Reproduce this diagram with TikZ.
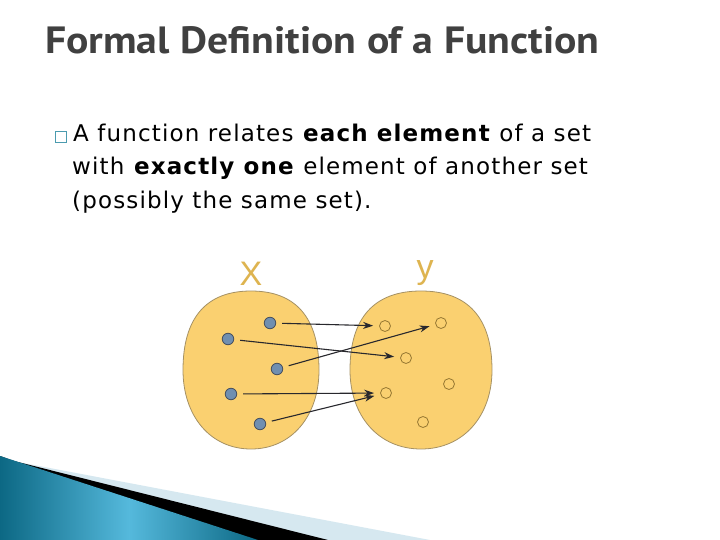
\documentclass[tikz,border=0pt]{standalone}
\usepackage{fontspec}
\setmainfont{DejaVu Sans}[LetterSpace=5]
\newfontfamily\titlefont{PT Sans}
\newfontfamily\labfont{Liberation Sans}
\usetikzlibrary{arrows.meta}
\definecolor{titlec}{RGB}{64,64,64}
\definecolor{bulc}{RGB}{75,155,175}
\definecolor{blobfill}{RGB}{250,208,112}
\definecolor{blobline}{RGB}{165,145,100}
\definecolor{dotfill}{RGB}{112,143,176}
\definecolor{dotline}{RGB}{70,80,95}
\definecolor{odotline}{RGB}{150,120,50}
\definecolor{labc}{RGB}{222,180,80}
\definecolor{arrc}{RGB}{40,40,45}
\definecolor{tealdark}{RGB}{12,104,132}
\definecolor{teallight}{RGB}{85,185,220}
\definecolor{paleblue}{RGB}{214,232,240}
\newcommand{\blobat}[4]{%
  (#1+#3,#2) .. controls (#1+#3,#2+0.58*#4) and (#1+0.6*#3,#2+#4) .. (#1,#2+#4)
  .. controls (#1-0.6*#3,#2+#4) and (#1-#3,#2+0.58*#4) .. (#1-#3,#2)
  .. controls (#1-#3,#2-0.66*#4) and (#1-0.66*#3,#2-#4) .. (#1,#2-#4)
  .. controls (#1+0.66*#3,#2-#4) and (#1+#3,#2-0.66*#4) .. (#1+#3,#2) -- cycle}
\tikzset{
  body/.style={inner sep=0pt, anchor=base west, font=\fontsize{23}{27}\selectfont},
  ldot/.style={circle, minimum size=11.5pt, inner sep=0pt, fill=dotfill, draw=dotline, line width=0.8pt},
  rdot/.style={circle, minimum size=11pt, inner sep=0pt, fill=blobfill, draw=odotline, line width=0.8pt},
  arr/.style={draw=arrc, line width=1.1pt, -{Stealth[length=10pt,width=7pt]}, shorten <=6pt, shorten >=6pt},
  setlab/.style={inner sep=0pt, anchor=base, text=labc, font=\labfont\fontsize{34}{34}\selectfont},
  blob/.style={fill=blobfill, draw=blobline, line width=0.8pt}
}
\begin{document}
\begin{tikzpicture}[x=1pt,y=-1pt]
\useasboundingbox (0,0) rectangle (720,540);
\fill[white] (0,0) rectangle (720,540);
% title
\node[inner sep=0pt, anchor=base west, text=titlec] (title) at (45,54)
  {\resizebox{554pt}{27pt}{\titlefont\bfseries Formal Definition of a Function}};
% bullet text
\node[draw=bulc, line width=0.8pt, minimum size=11pt, inner sep=0pt] (bul) at (61,137) {};
\node[body] (l1) at (73,142) {A function relates \textbf{each element} of a set};
\node[body] (l2) at (72,175) {with \textbf{exactly one} element of another set};
\node[body] (l3) at (72,208) {(possibly the same set).};
% sets
\draw[blob] \blobat{251}{370}{68}{79};
\draw[blob] \blobat{421}{370}{71}{79};
\node[setlab] (X) at (251,285) {X};
\node[setlab] (Y) at (425,278) {y};
% elements
\node[ldot] (a1) at (270,323) {};
\node[ldot] (a2) at (228,339) {};
\node[ldot] (a3) at (277,369) {};
\node[ldot] (a4) at (231,394) {};
\node[ldot] (a5) at (260,424) {};
\node[rdot] (b1) at (385,326) {};
\node[rdot] (b2) at (441,323) {};
\node[rdot] (b3) at (406,358) {};
\node[rdot] (b4) at (449,384) {};
\node[rdot] (b5) at (386,393) {};
\node[rdot] (b6) at (423,422) {};
\draw[arr] (a1) -- (b1);
\draw[arr] (a2) -- (b3);
\draw[arr] (a3) -- (b2);
\draw[arr] (a4) -- (b5);
\draw[arr] (a5) -- (b5);
% bottom decoration
\fill[paleblue] (18,462) -- (430,540) -- (0,540) -- (0,456) -- cycle;
\fill[black] (14,461) -- (328,540) -- (0,540) -- (0,456) -- cycle;
\shade[left color=tealdark, right color=tealdark, middle color=teallight]
  (0,456) -- (258,540) -- (0,540) -- cycle;
\end{tikzpicture}
\end{document}
